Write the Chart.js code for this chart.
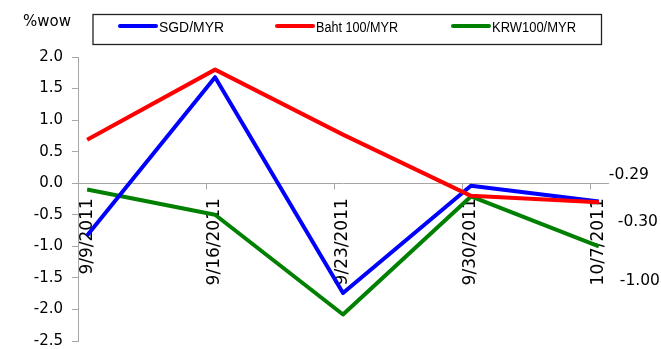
<!DOCTYPE html>
<html>
<head>
<meta charset="utf-8">
<script src="https://cdn.jsdelivr.net/npm/chart.js@4.4.1/dist/chart.umd.min.js"></script>
<style>
  html, body { margin: 0; padding: 0; background: #ffffff; }
  #wrap { width: 661px; height: 349px; }
</style>
</head>
<body>
<div id="wrap"><canvas id="c" width="661" height="349"></canvas></div>
<script>
// Weekly dates (ISO) and their axis labels
const weekDates = ['2011-09-09', '2011-09-16', '2011-09-23', '2011-09-30', '2011-10-07'];
const dateLabels = ['9/9/2011', '9/16/2011', '9/23/2011', '9/30/2011', '10/7/2011'];

// Week-on-week % change
const sgdMyr = [-0.83, 1.68, -1.74, -0.04, -0.29];
const baht100Myr = [0.69, 1.80, 0.77, -0.20, -0.30];
const krw100Myr = [-0.10, -0.50, -2.08, -0.21, -1.00];

const seriesNames = ['SGD/MYR', 'Baht 100/MYR', 'KRW100/MYR'];
const seriesColors = ['#0000ff', '#ff0000', '#008000'];

const yTickValues = [-2.5, -2.0, -1.5, -1.0, -0.5, 0.0, 0.5, 1.0, 1.5, 2.0];
const unitLabel = '%wow';

const DAY = 86400000;
const dayIndex = weekDates.map(d => (Date.parse(d) - Date.parse(weekDates[0])) / DAY);
const toPoints = arr => arr.map((v, i) => ({ x: dayIndex[i], y: v }));

const AXIS_GREY = '#a6a6a6';

// Small tick marks below the category axis, at the day boundaries
const xTickMarks = {
  id: 'xTickMarks',
  beforeDatasetsDraw(chart) {
    const xs = chart.scales.x, ys = chart.scales.y;
    const y0 = Math.round(ys.getPixelForValue(0)) + 0.5;
    const ctx = chart.ctx;
    ctx.save();
    ctx.strokeStyle = AXIS_GREY;
    ctx.lineWidth = 1;
    ctx.beginPath();
    for (let i = 0; i < dayIndex.length; i++) {
      const px = Math.round(xs.getPixelForValue(dayIndex[i] - 0.5)) + 0.5;
      ctx.moveTo(px, y0);
      ctx.lineTo(px, y0 + 6);
    }
    ctx.stroke();
    ctx.restore();
  }
};

// Boxed legend and unit caption
const boxedLegend = {
  id: 'boxedLegend',
  afterDraw(chart) {
    const ctx = chart.ctx;
    ctx.save();
    ctx.fillStyle = '#000';
    ctx.font = '15px "DejaVu Sans"';
    ctx.textBaseline = 'middle';
    ctx.textAlign = 'left';
    ctx.fillText(unitLabel, 23, 22);

    ctx.strokeStyle = '#222';
    ctx.lineWidth = 1.3;
    ctx.strokeRect(93, 14.5, 508.5, 30);

    const starts = [119, 276, 452];
    const textWidths = [65, 82, 84];
    ctx.font = '14px "Liberation Sans"';
    chart.data.datasets.forEach((ds, i) => {
      const x0 = starts[i];
      ctx.strokeStyle = ds.borderColor;
      ctx.lineWidth = 4;
      ctx.lineCap = 'round';
      ctx.beginPath();
      ctx.moveTo(x0 + 1, 26);
      ctx.lineTo(x0 + 37, 26);
      ctx.stroke();
      ctx.fillStyle = '#000';
      ctx.fillText(ds.label, x0 + 40, 28.5, textWidths[i]);
    });
    ctx.restore();
  }
};

// Latest-week value labels to the right of the plot
const lastValueLabels = {
  id: 'lastValueLabels',
  afterDatasetsDraw(chart) {
    const offsets = [{ dx: 10, dy: -27 }, { dx: 19, dy: 19.5 }, { dx: 21, dy: 34.5 }];
    const ctx = chart.ctx;
    ctx.save();
    ctx.fillStyle = '#000';
    ctx.font = '15.5px "DejaVu Sans"';
    ctx.textBaseline = 'middle';
    ctx.textAlign = 'left';
    chart.data.datasets.forEach((ds, i) => {
      const meta = chart.getDatasetMeta(i);
      const last = meta.data[meta.data.length - 1];
      const v = ds.data[ds.data.length - 1].y;
      ctx.fillText(v.toFixed(2), last.x + offsets[i].dx, last.y + offsets[i].dy);
    });
    ctx.restore();
  }
};

const seriesValues = [sgdMyr, baht100Myr, krw100Myr];
const drawOrder = [1, 0, 2];

new Chart(document.getElementById('c'), {
  type: 'line',
  data: {
    datasets: seriesValues.map((vals, i) => ({
      label: seriesNames[i],
      data: toPoints(vals),
      borderColor: seriesColors[i],
      backgroundColor: seriesColors[i],
      borderWidth: 4,
      borderJoinStyle: 'round',
      borderCapStyle: 'butt',
      pointRadius: 0,
      tension: 0,
      fill: false,
      order: drawOrder[i]
    }))
  },
  options: {
    responsive: false,
    animation: false,
    devicePixelRatio: 1,
    layout: { padding: { left: 0, right: 53, top: 57, bottom: 8 } },
    plugins: {
      legend: { display: false },
      tooltip: { enabled: false }
    },
    scales: {
      x: {
        type: 'linear',
        position: { y: 0 },
        min: dayIndex[0] - 0.5,
        max: dayIndex[dayIndex.length - 1] + 0.5,
        afterBuildTicks(scale) {
          scale.ticks = dayIndex.map(v => ({ value: v }));
        },
        afterFit(scale) {
          scale.height = 0;
          scale.paddingLeft = 0; scale.paddingRight = 0;
          scale.paddingTop = 0; scale.paddingBottom = 0;
        },
        grid: { display: true, drawOnChartArea: false, drawTicks: false, color: AXIS_GREY },
        border: { display: true, color: AXIS_GREY, width: 1 },
        ticks: {
          autoSkip: false,
          maxRotation: 90,
          minRotation: 90,
          padding: 15,
          color: '#000',
          font: { family: '"DejaVu Sans"', size: 17 },
          callback(value) {
            const i = dayIndex.indexOf(value);
            return i >= 0 ? dateLabels[i] : '';
          }
        }
      },
      y: {
        min: yTickValues[0],
        max: yTickValues[yTickValues.length - 1],
        afterBuildTicks(scale) {
          scale.ticks = yTickValues.map(v => ({ value: v }));
        },
        afterFit(scale) {
          scale.width = 78;
          scale.paddingTop = 0; scale.paddingBottom = 0;
        },
        grid: { drawOnChartArea: false, drawTicks: true, tickLength: 6, color: AXIS_GREY },
        border: { display: true, color: AXIS_GREY, width: 1 },
        ticks: {
          padding: 9,
          color: '#000',
          font: { family: '"DejaVu Sans"', size: 15 },
          callback: v => v.toFixed(1)
        }
      }
    }
  },
  plugins: [xTickMarks, lastValueLabels, boxedLegend]
});
</script>
</body>
</html>
